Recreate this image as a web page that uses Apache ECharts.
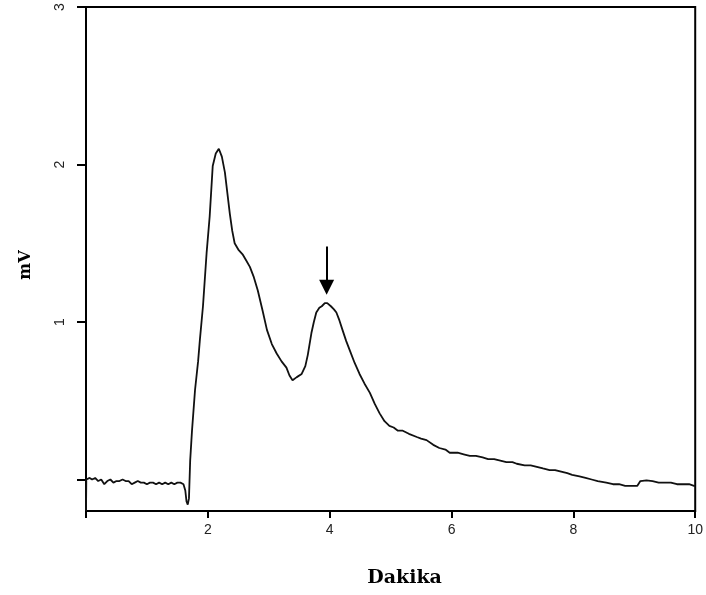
<!DOCTYPE html>
<html>
<head>
<meta charset="utf-8">
<script src="https://cdn.jsdelivr.net/npm/echarts@6/dist/echarts.min.js"></script>
<style>html,body{margin:0;padding:0;background:#fff;}#c{width:706px;height:595px;}</style>
</head>
<body>
<div id="c"></div>
<script>
// Chromatogram: time (Dakika) vs signal (mV)
const timeMin = [
  0.00, 0.005, 0.06, 0.10, 0.15, 0.20, 0.25, 0.30, 0.35, 0.40, 0.45, 0.50, 0.55, 0.60, 0.65, 0.70,
  0.75, 0.80, 0.85, 0.90, 0.95, 1.00, 1.05, 1.10, 1.15, 1.20, 1.25, 1.30, 1.35, 1.40, 1.45, 1.50,
  1.55, 1.60, 1.63, 1.65, 1.67, 1.69, 1.70, 1.71, 1.74, 1.79, 1.84, 1.87, 1.92, 1.98, 2.03, 2.08,
  2.13, 2.18, 2.23, 2.28, 2.32, 2.36, 2.40, 2.44, 2.50, 2.57, 2.63, 2.69, 2.75, 2.82, 2.90, 2.97,
  3.05, 3.13, 3.21, 3.29, 3.34, 3.39, 3.46, 3.54, 3.60, 3.64, 3.70, 3.74, 3.78, 3.83, 3.87, 3.92,
  3.96, 4.02, 4.07, 4.11, 4.16, 4.21, 4.27, 4.33, 4.41, 4.49, 4.57, 4.66, 4.74, 4.82, 4.90, 4.98,
  5.05, 5.12, 5.20, 5.30, 5.43, 5.50, 5.59, 5.70, 5.80, 5.90, 5.97, 6.10, 6.20, 6.30, 6.40, 6.51,
  6.60, 6.70, 6.80, 6.90, 7.00, 7.07, 7.20, 7.30, 7.40, 7.50, 7.61, 7.70, 7.80, 7.90, 7.98, 8.10,
  8.20, 8.30, 8.40, 8.54, 8.65, 8.75, 8.85, 8.97, 9.05, 9.10, 9.20, 9.30, 9.40, 9.52, 9.60, 9.70,
  9.80, 9.90, 9.98, 10.00
];
const signalMV = [
  -0.20, 0.00, 0.01, 0.00, 0.01, -0.01, 0.00, -0.03, -0.01, 0.00, -0.02, -0.01, -0.01, 0.00, -0.01, -0.01,
  -0.03, -0.02, -0.01, -0.02, -0.02, -0.03, -0.02, -0.02, -0.03, -0.02, -0.03, -0.02, -0.03, -0.02, -0.03, -0.02,
  -0.02, -0.03, -0.07, -0.14, -0.16, -0.12, 0.00, 0.12, 0.31, 0.57, 0.75, 0.89, 1.10, 1.44, 1.67, 1.99,
  2.07, 2.10, 2.05, 1.95, 1.82, 1.69, 1.58, 1.50, 1.46, 1.43, 1.39, 1.35, 1.29, 1.20, 1.07, 0.95,
  0.86, 0.80, 0.75, 0.71, 0.66, 0.63, 0.65, 0.67, 0.72, 0.79, 0.93, 1.00, 1.06, 1.09, 1.10, 1.12,
  1.12, 1.10, 1.08, 1.06, 1.01, 0.95, 0.88, 0.82, 0.74, 0.67, 0.61, 0.55, 0.48, 0.42, 0.37, 0.34,
  0.33, 0.31, 0.31, 0.29, 0.27, 0.26, 0.25, 0.22, 0.20, 0.19, 0.17, 0.17, 0.16, 0.15, 0.15, 0.14,
  0.13, 0.13, 0.12, 0.11, 0.11, 0.10, 0.09, 0.09, 0.08, 0.07, 0.06, 0.06, 0.05, 0.04, 0.03, 0.02,
  0.01, 0.00, -0.01, -0.02, -0.03, -0.03, -0.04, -0.04, -0.04, -0.01, -0.005, -0.01, -0.02, -0.02, -0.02, -0.03,
  -0.03, -0.03, -0.04, -0.04
];
const xTickValues = [0, 2, 4, 6, 8, 10];
const xTickLabels = [2, 4, 6, 8, 10];
const yTickValues = [0, 1, 2, 3];
const yTickLabels = [1, 2, 3];
const arrowX = 3.95;
const arrowTop = 1.48;
const arrowEnd = 1.22;

const seriesData = timeMin.map((t, i) => [t, signalMV[i]]);

const chart = echarts.init(document.getElementById('c'), null, {renderer: 'canvas'});
chart.setOption({
  animation: false,
  backgroundColor: '#fff',
  grid: {left: 86, right: 10, top: 7, bottom: 84, show: true, borderColor: '#000', borderWidth: 2, backgroundColor: 'transparent'},
  xAxis: {
    type: 'value', min: 0, max: 10,
    name: 'Dakika', nameLocation: 'middle', nameGap: 58,
    nameTextStyle: {fontFamily: 'DejaVu Serif', fontWeight: 'bold', fontSize: 19, color: '#000', padding: [0, 0, 0, 28]},
    axisLine: {show: true, onZero: false, lineStyle: {color: '#000', width: 2}},
    axisTick: {show: true, length: 7, lineStyle: {color: '#000', width: 2}, customValues: xTickValues},
    axisLabel: {customValues: xTickLabels, margin: 12, fontFamily: 'Liberation Sans', fontSize: 14, color: '#222'},
    splitLine: {show: false}
  },
  yAxis: {
    type: 'value', min: -0.2, max: 3,
    name: 'mV', nameLocation: 'middle', nameGap: 52, nameRotate: 90,
    nameTextStyle: {fontFamily: 'DejaVu Serif', fontWeight: 'bold', fontSize: 16, color: '#000', padding: [0, 12, 0, 0]},
    axisLine: {show: true, onZero: false, lineStyle: {color: '#000', width: 2}},
    axisTick: {show: true, length: 9, lineStyle: {color: '#000', width: 2}, customValues: yTickValues},
    axisLabel: {customValues: yTickLabels, rotate: 90, margin: 19, fontFamily: 'Liberation Sans', fontSize: 14, color: '#222'},
    splitLine: {show: false}
  },
  series: [{
    type: 'line',
    data: seriesData,
    showSymbol: false,
    symbol: 'none',
    lineStyle: {color: '#111', width: 1.8},
    markLine: {
      silent: true,
      symbol: ['none', 'triangle'],
      symbolSize: [15, 15],
      label: {show: false},
      lineStyle: {color: '#000', width: 2, type: 'solid'},
      data: [[{coord: [arrowX, arrowTop]}, {coord: [arrowX, arrowEnd]}]]
    }
  }]
});
</script>
</body>
</html>
